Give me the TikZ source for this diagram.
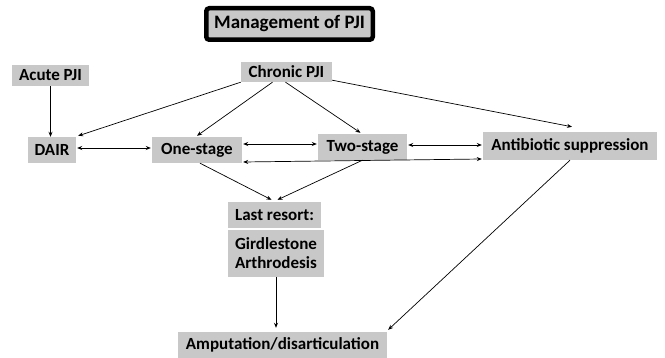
\documentclass[tikz,border=0pt]{standalone}
\usepackage{fontspec}
\setmainfont{Carlito}
\usetikzlibrary{arrows.meta}
\definecolor{boxgray}{RGB}{200,200,200}
\begin{document}
\begin{tikzpicture}[x=1pt,y=-1pt,
  box/.style={fill=boxgray,inner sep=0pt,font=\fontsize{17}{19}\selectfont\bfseries,align=center},
  titlebox/.style={fill=boxgray,draw=black,line width=4.5pt,rounded corners=3pt,inner sep=0pt,font=\fontsize{19}{21}\selectfont\bfseries},
  conn/.style={line width=0.7pt,-{Stealth[length=5pt,width=4pt]}},
  dconn/.style={line width=0.7pt,{Stealth[length=5pt,width=4pt]}-{Stealth[length=5pt,width=4pt]}}]
\useasboundingbox (0,0) rectangle (665,358);
\node[titlebox,minimum width=166.5pt,minimum height=31.5pt] (title) at (289.5,24) {Management of PJI};
\node[box,minimum width=77pt,minimum height=21pt] (acute) at (50.5,75.5) {Acute PJI};
\node[box,minimum width=91pt,minimum height=20pt] (chronic) at (286.5,72) {Chronic PJI};
\node[box,minimum width=48pt,minimum height=26pt] (dair) at (52,150) {DAIR};
\node[box,minimum width=90pt,minimum height=26pt] (one) at (197,150) {One-stage};
\node[box,minimum width=89pt,minimum height=26pt] (two) at (362.5,147) {Two-stage};
\node[box,minimum width=174pt,minimum height=28pt] (anti) at (570,146) {Antibiotic suppression};
\node[box,minimum width=93pt,minimum height=26pt] (last) at (274.5,215) {Last resort:};
\node[box,minimum width=96pt,minimum height=47pt] (gird) at (276,253.5) {Girdlestone\\Arthrodesis};
\node[box,minimum width=209pt,minimum height=26pt] (amp) at (282.5,345) {Amputation/disarticulation};
\draw[conn] (acute.south) -- (acute.south |- dair.north);
\draw[conn] (chronic.south west) -- ([xshift=2pt,yshift=1pt]dair.north east);
\draw[conn] ([xshift=-14pt]chronic.south) -- ([yshift=1pt]one.north);
\draw[conn] ([xshift=-1pt]chronic.south) -- ([xshift=-2pt,yshift=1pt]two.north);
\draw[conn] ([yshift=2pt]chronic.south east) -- ([xshift=2pt,yshift=5pt]anti.north);
\draw[dconn] ([xshift=1pt,yshift=2pt]dair.east) -- ([xshift=-1pt,yshift=2pt]one.west);
\draw[dconn] ([xshift=1pt,yshift=6pt]one.east) -- ([xshift=-1pt,yshift=3pt]two.west);
\draw[dconn] ([xshift=1pt,yshift=2pt]two.east) -- ([xshift=-1pt,yshift=1pt]anti.west);
\draw[dconn] ([xshift=1pt,yshift=-12pt]one.east) -- ([xshift=-1pt,yshift=-13pt]anti.west);
\draw[conn] ([xshift=3pt]one.south) -- ([xshift=-3pt,yshift=2pt]last.north);
\draw[conn] (two.south) -- ([xshift=3pt,yshift=2pt]last.north);
\draw[conn] (gird.south) -- ([yshift=4pt]gird.south |- amp.north);
\draw[conn] (anti.south) -- ([xshift=1pt,yshift=2pt]amp.north east);
\end{tikzpicture}
\end{document}
